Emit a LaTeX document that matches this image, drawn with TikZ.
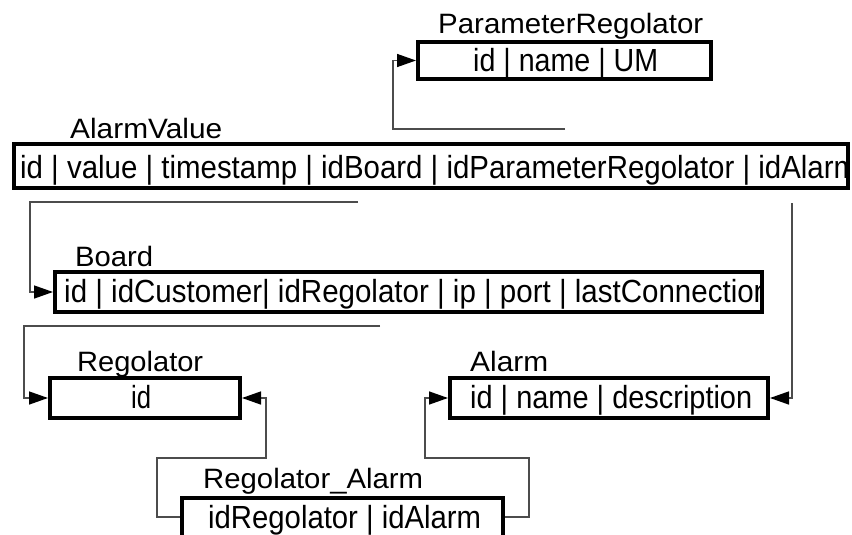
\documentclass[tikz,border=0pt]{standalone}
\usepackage{fontspec}
\setmainfont{Liberation Sans}
\usetikzlibrary{arrows.meta}
\newcommand\fitw[2]{\resizebox{#1pt}{\height}{#2}}
\tikzset{
  tbl/.style={draw=black, line width=4pt, fill=white, inner sep=0pt},
  ttl/.style={anchor=base west, inner sep=0pt, font=\fontsize{28}{28}\selectfont},
  txt/.style={anchor=base west, inner sep=0pt, font=\fontsize{32}{32}\selectfont},
  conn/.style={draw=black!70, line width=1.4pt, -{Triangle[length=19pt,width=13pt,color=black]}}
}
\begin{document}
\begin{tikzpicture}[x=1pt,y=-1pt]
\useasboundingbox[fill=white] (0,0) rectangle (852,535);
% boxes
\node[tbl, minimum width=293pt, minimum height=37pt] (pr) at (564.5,60.5) {};
\node[tbl, minimum width=834pt, minimum height=44pt] (av) at (431,166) {};
\node[tbl, minimum width=707pt, minimum height=40pt] (bd) at (408.5,292) {};
\node[tbl, minimum width=190pt, minimum height=40pt] (rg) at (145,398) {};
\node[tbl, minimum width=318pt, minimum height=40pt] (al) at (609,398) {};
\node[tbl, minimum width=321pt, minimum height=47pt] (ra) at (342.5,521.5) {};
% titles
\node[ttl] (prT) at (438,34) {\fitw{265}{ParameterRegolator}};
\node[ttl] (avT) at (70,138) {\fitw{152}{AlarmValue}};
\node[ttl] (bdT) at (75,266) {\fitw{78}{Board}};
\node[ttl] (rgT) at (77,371) {\fitw{126}{Regolator}};
\node[ttl] (alT) at (470,371) {\fitw{78}{Alarm}};
\node[ttl] (raT) at (203,488) {\fitw{220}{Regolator\_Alarm}};
% contents
\node[txt] (prC) at (473,71) {\fitw{185}{id | name | UM}};
\begin{scope}
\clip ([shift={(4pt,4pt)}]av.south west) rectangle ([shift={(-4pt,-4pt)}]av.north east);
\node[txt] (avC) at (20,178) {\fitw{838}{id | value | timestamp | idBoard | idParameterRegolator | idAlarm}};
\end{scope}
\begin{scope}
\clip ([shift={(4pt,4pt)}]bd.south west) rectangle ([shift={(-4pt,-4pt)}]bd.north east);
\node[txt] (bdC) at (64,302) {\fitw{706}{id | idCustomer| idRegolator | ip | port | lastConnection}};
\end{scope}
\node[txt] (rgC) at (131,408) {\fitw{20}{id}};
\node[txt] (alC) at (470,408) {\fitw{282}{id | name | description}};
\node[txt] (raC) at (208,528) {\fitw{273}{idRegolator | idAlarm}};
% connectors
\coordinate (s1) at (565,129);
\coordinate (s2) at (358,202);
\coordinate (s3) at (380,326);
\coordinate (s4) at (792,203);
\draw[conn] (s1) -- (393,129) |- (pr.west);
\draw[conn] (s2) -- (30,202) |- (bd.west);
\draw[conn] (s3) -- (24,326) |- (rg.west);
\draw[conn] (s4) |- (al.east);
\draw[conn] ([yshift=4.5pt]ra.west) -- (157,517) |- (266,458) |- (rg.east);
\draw[conn] ([yshift=4.5pt]ra.east) -- (529,517) |- (425,458) |- (al.west);
\end{tikzpicture}
\end{document}
